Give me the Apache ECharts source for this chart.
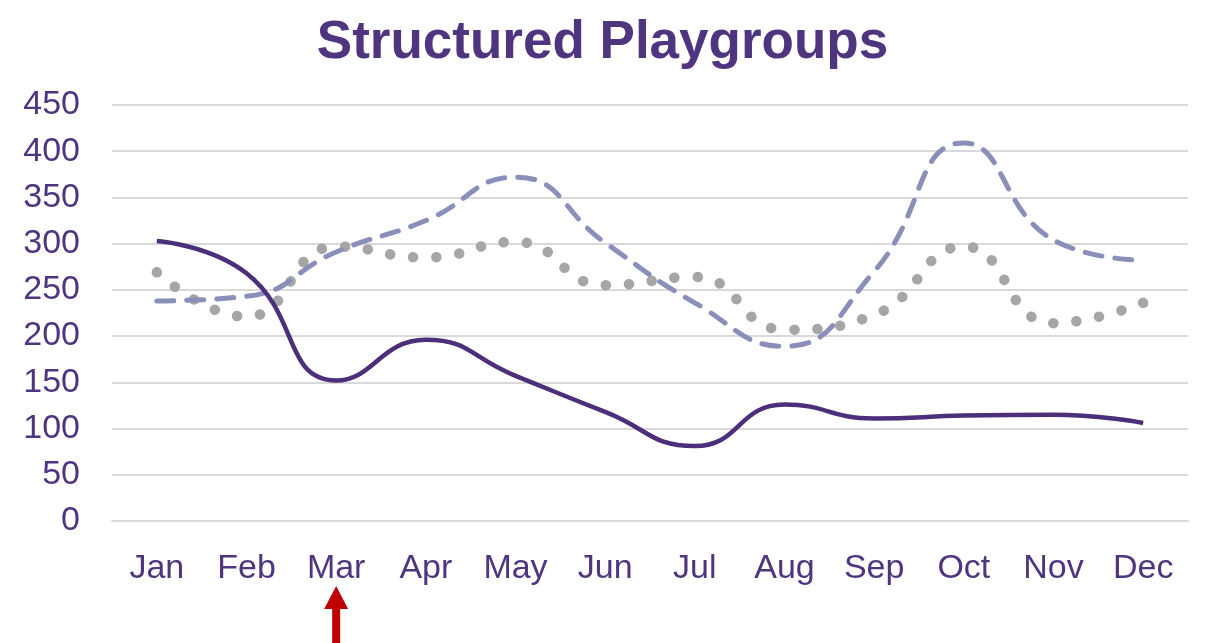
<!DOCTYPE html>
<html><head><meta charset="utf-8">
<script src="https://cdn.jsdelivr.net/npm/echarts@6/dist/echarts.min.js"></script>
<style>html,body{margin:0;padding:0;background:#fff}#c{width:1205px;height:643px}</style>
</head><body><div id="c"></div>
<script>
const months = ['Jan','Feb','Mar','Apr','May','Jun','Jul','Aug','Sep','Oct','Nov','Dec'];
const solidSeries = [303, 268, 152, 196, 157, 118, 81, 126, 111, 114, 115, 106];
const dashedSeries = [238, 243, 291, 325, 372, 301, 236, 189, 270, 409, 304, 282];
const dottedSeries = [269, 221, 297, 285, 302, 255, 264, 207, 223, 297, 214, 236];
const yTicks = [0, 50, 100, 150, 200, 250, 300, 350, 400, 450];
const arrowMonth = 'Mar';

const purple = '#4F3480';
const ff = "'Liberation Sans', Arial, sans-serif";
const chart = echarts.init(document.getElementById('c'));
chart.setOption({
  animation: false,
  title: {
    text: 'Structured Playgroups', left: 'center', top: 12,
    textStyle: {fontFamily: ff, fontWeight: 'bold', fontSize: 53, color: purple}
  },
  grid: {left: 112, right: 17, top: 105, bottom: 122},
  xAxis: {
    type: 'category', data: months, boundaryGap: true,
    axisLine: {show: true, lineStyle: {color: '#d9d9d9', width: 2}},
    axisTick: {show: false},
    axisLabel: {color: purple, fontSize: 34, fontFamily: ff, margin: 31}
  },
  yAxis: {
    type: 'value', min: yTicks[0], max: yTicks[yTicks.length-1], interval: 50,
    axisLine: {show: false}, axisTick: {show: false},
    axisLabel: {color: purple, fontSize: 34, fontFamily: ff, margin: 32, align: 'right'},
    splitLine: {lineStyle: {color: '#d9d9d9', width: 2}}
  },
  series: [
    {type: 'line', data: dottedSeries, smooth: 0.5, symbol: 'none',
     lineStyle: {color: '#A6A6A6', width: 10.5, type: [0.1, 23], cap: 'round'}, z: 2},
    {type: 'line', data: dashedSeries, smooth: 0.5, symbol: 'none',
     lineStyle: {color: '#8A8FBA', width: 5, type: [17, 13], cap: 'round'}, z: 3},
    {type: 'line', data: solidSeries, smooth: 0.5, symbol: 'none',
     lineStyle: {color: '#4B2F7A', width: 4.5}, z: 4}
  ]
});
const ax = chart.convertToPixel({xAxisIndex: 0}, arrowMonth);
chart.setOption({
  graphic: [{
    type: 'polygon',
    shape: {points: [[ax, 586], [ax + 12, 609], [ax + 4, 609], [ax + 4, 643], [ax - 4, 643], [ax - 4, 609], [ax - 12, 609]]},
    style: {fill: '#C00000'}
  }]
});
</script></body></html>
